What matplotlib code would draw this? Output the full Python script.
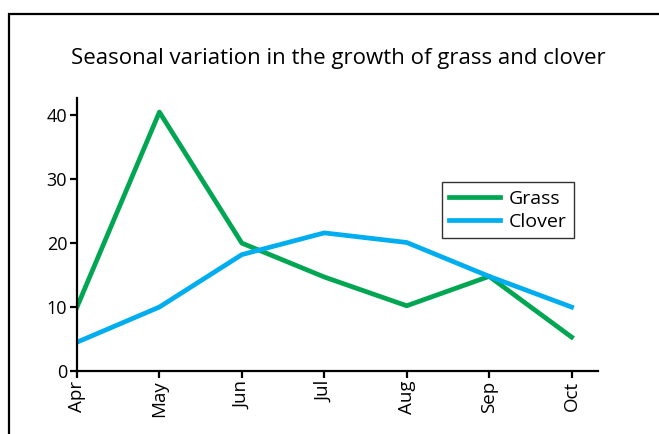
import matplotlib.pyplot as plt
from matplotlib.patches import Rectangle

months = ['Apr', 'May', 'Jun', 'Jul', 'Aug', 'Sep', 'Oct']
grass = [10, 40.5, 20, 14.7, 10.2, 14.8, 5.3]
clover = [4.5, 10, 18.2, 21.6, 20.1, 14.8, 10]
yticks = [0, 10, 20, 30, 40]

plt.rcParams['font.family'] = ['Open Sans', 'DejaVu Sans']

fig = plt.figure(figsize=(6.59, 4.34), dpi=100)
# outer frame (cropped at right and bottom)
fig.patches.append(Rectangle((9 / 659, -0.1), 1.1, 1 - 14 / 434 + 0.1,
                             transform=fig.transFigure, fill=False,
                             edgecolor='black', linewidth=1.6))

ax = fig.add_axes([0.1168, 0.1452, 0.7906, 0.629])
x = range(len(months))
ax.plot(x, grass, color='#00A651', linewidth=3.4, label='Grass')
ax.plot(x, clover, color='#00AEEF', linewidth=3.4, label='Clover')

ax.set_xlim(0, 6.32)
ax.set_ylim(0, 42.7)
ax.set_xticks(list(x))
ax.set_xticklabels(months, rotation=90, fontsize=13.5)
ax.set_yticks(yticks)
ax.set_yticklabels([str(v) for v in yticks], fontsize=13)
for s in ['top', 'right']:
    ax.spines[s].set_visible(False)
for s in ['left', 'bottom']:
    ax.spines[s].set_linewidth(1.6)
ax.tick_params(width=1.6, length=5, pad=2)

leg = ax.legend(loc='upper left', bbox_to_anchor=(0.70, 0.692), fontsize=14,
                frameon=True, fancybox=False, handlelength=2.6,
                borderpad=0.4, labelspacing=0.25, handletextpad=0.45,
                borderaxespad=0)
leg.get_frame().set_edgecolor('black')
leg.get_frame().set_linewidth(1)

fig.text(0.514, 0.865, 'Seasonal variation in the growth of grass and clover',
         ha='center', va='center', fontsize=16)

fig.savefig('out.png', dpi=100)
